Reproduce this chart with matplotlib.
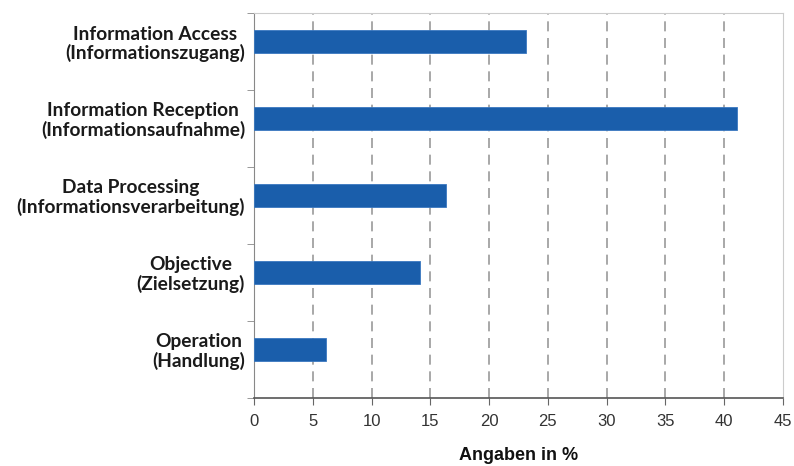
import numpy as np
import matplotlib
matplotlib.use("Agg")
import matplotlib.pyplot as plt

categories = ["Information Access\n(Informationszugang)",
              "Information Reception\n(Informationsaufnahme)",
              "Data Processing\n(Informationsverarbeitung)",
              "Objective\n(Zielsetzung)",
              "Operation\n(Handlung)"]
values = [23.1, 41.1, 16.3, 14.1, 6.1]
xticks = [0, 5, 10, 15, 20, 25, 30, 35, 40, 45]

fig = plt.figure(figsize=(7.94, 4.66), dpi=100)
ax = fig.add_axes([0.320, 0.146, 0.666, 0.826])

pos = np.arange(len(categories))
ax.barh(pos, values, height=0.30, color="#1a5eab", edgecolor="#3a78c0", lw=0.6, zorder=3)

off = 0.13
ax.set_ylim(len(categories) - 0.5 + off, -0.5 + off)
ax.set_xlim(0, 45)

ax.set_yticks(pos)
ax.set_yticklabels(categories, fontfamily="Lato", fontweight="bold", fontsize=13.8,
                   multialignment="center", linespacing=1.08, color="#1a1a1a")
ax.set_yticks(np.arange(len(categories) + 1) - 0.5 + off, minor=True)
ax.tick_params(axis="y", which="major", length=0, pad=6.5)
ax.tick_params(axis="y", which="minor", length=5, color="#888888", direction="out")

ax.set_xticks(xticks)
ax.set_xticklabels([str(t) for t in xticks], fontfamily="Liberation Sans", fontsize=12, color="#333333")
ax.tick_params(axis="x", length=5, color="#666666", pad=6.5)
ax.set_xlabel("Angaben in %", fontfamily="Liberation Sans", fontweight="bold", fontsize=13,
              labelpad=13, color="#111111")

for x in xticks[1:-1]:
    ax.axvline(x, color="#999999", lw=1.2, ls=(0, (6, 4)), zorder=1)

ax.spines["left"].set_color("#888888")
ax.spines["bottom"].set_color("#555555")
ax.spines["bottom"].set_linewidth(1.2)
ax.spines["top"].set_color("#cccccc")
ax.spines["right"].set_color("#cccccc")

fig.savefig("out.png", dpi=100)
